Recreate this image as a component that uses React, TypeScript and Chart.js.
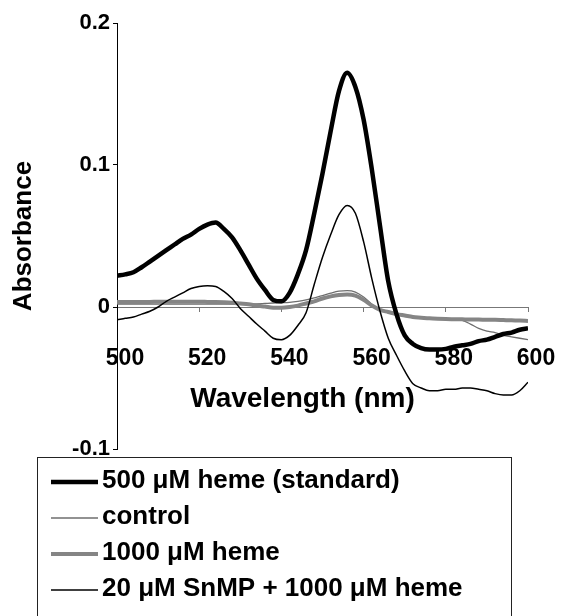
import React, { useEffect, useRef } from "react";
import { Chart, registerables } from "chart.js";

Chart.register(...registerables);

// Wavelength grid (nm)
const wavelengths = [
  500, 502, 504, 506, 508, 510, 512, 514, 516, 518, 520, 522, 524, 526, 528, 530, 532, 534, 536, 538,
  540, 542, 544, 546, 548, 550, 552, 554, 556, 558, 560, 562, 564, 566, 568, 570, 572, 574, 576, 578,
  580, 582, 584, 586, 588, 590, 592, 594, 596, 598, 600,
];

// 500 µM heme (standard)
const std500 = [
  0.022, 0.023, 0.0245, 0.028, 0.032, 0.036, 0.04, 0.044, 0.048, 0.051, 0.055, 0.058, 0.0595, 0.055, 0.049, 0.04, 0.03, 0.02, 0.012, 0.005,
  0.004, 0.01, 0.023, 0.04, 0.066, 0.094, 0.124, 0.152, 0.165, 0.155, 0.132, 0.097, 0.057, 0.018, -0.005, -0.02, -0.026, -0.029, -0.03, -0.03,
  -0.0295, -0.028, -0.027, -0.026, -0.024, -0.023, -0.021, -0.019, -0.018, -0.016, -0.015,
];

// control
const control = [
  0.002, 0.002, 0.002, 0.002, 0.002, 0.002, 0.002, 0.002, 0.002, 0.002, 0.002, 0.002, 0.002, 0.002, 0.002, 0.002, 0.002, 0.0022, 0.0025, 0.0028,
  0.003, 0.0033, 0.004, 0.005, 0.0065, 0.008, 0.0098, 0.0112, 0.0115, 0.0105, 0.007, 0.002, -0.002, -0.004, -0.005, -0.006, -0.007, -0.0075, -0.008, -0.0082,
  -0.0085, -0.0087, -0.0095, -0.012, -0.015, -0.017, -0.018, -0.02, -0.021, -0.022, -0.023,
];

// 1000 µM heme
const heme1000 = [
  0.0035, 0.0035, 0.0035, 0.0036, 0.0036, 0.0037, 0.0037, 0.0037, 0.0037, 0.0037, 0.0037, 0.0036, 0.0035, 0.0033, 0.003, 0.0025, 0.002, 0.001, 0.0003, -0.0005,
  -0.0005, 0.0, 0.001, 0.0025, 0.004, 0.006, 0.0075, 0.0085, 0.0088, 0.008, 0.005, 0.001, -0.002, -0.0035, -0.005, -0.006, -0.007, -0.0075, -0.008, -0.0083,
  -0.0085, -0.0086, -0.0087, -0.0088, -0.0088, -0.009, -0.009, -0.0092, -0.0094, -0.0095, -0.0098,
];

// 20 µM SnMP + 1000 µM heme
const snmp = [
  -0.009, -0.008, -0.007, -0.005, -0.003, 0.0, 0.004, 0.007, 0.01, 0.013, 0.0145, 0.015, 0.0145, 0.011, 0.006, -0.001, -0.0065, -0.012, -0.017, -0.022,
  -0.023, -0.02, -0.013, -0.004, 0.016, 0.035, 0.051, 0.065, 0.0715, 0.066, 0.046, 0.02, -0.003, -0.022, -0.034, -0.045, -0.054, -0.057, -0.059, -0.059,
  -0.058, -0.058, -0.057, -0.057, -0.058, -0.059, -0.061, -0.062, -0.062, -0.059, -0.053,
];

const seriesLabels = [
  "500 \u03bcM heme (standard)",
  "control",
  "1000 \u03bcM heme",
  "20 \u03bcM SnMP + 1000 \u03bcM heme",
];

const xTitle = "Wavelength (nm)";
const yTitle = "Absorbance";

const FONT = "'Liberation Sans', Arial, Helvetica, sans-serif";

const toPoints = (ys: number[]) => wavelengths.map((x, i) => ({ x, y: ys[i] }));

const extrasPlugin = {
  id: "extras",
  afterDraw(chart: any) {
    const { ctx, chartArea } = chart;
    ctx.save();
    // x-axis title
    ctx.fillStyle = "#000";
    ctx.font = `bold 28px ${FONT}`;
    ctx.textAlign = "center";
    ctx.textBaseline = "middle";
    const cx = (chartArea.left + chartArea.right) / 2 - 20;
    ctx.fillText(xTitle, cx, 399);

    // legend box
    const bx = 37;
    const by = 457;
    ctx.strokeStyle = "#222";
    ctx.lineWidth = 1;
    ctx.strokeRect(bx + 0.5, by + 0.5, 474, 200);

    const rowY = [482, 518, 554, 590];
    chart.data.datasets.forEach((ds: any, i: number) => {
      const y = rowY[i];
      ctx.beginPath();
      ctx.strokeStyle = ds.borderColor;
      ctx.lineWidth = ds.borderWidth;
      ctx.moveTo(51, y);
      ctx.lineTo(98, y);
      ctx.stroke();
      ctx.fillStyle = "#000";
      ctx.font = `bold 26px ${FONT}`;
      ctx.textAlign = "left";
      ctx.textBaseline = "middle";
      ctx.fillText(ds.label, 102, y - 1);
    });
    ctx.restore();
  },
};

export default function App() {
  const ref = useRef<HTMLCanvasElement | null>(null);

  useEffect(() => {
    if (!ref.current) return;
    const chart = new Chart(ref.current, {
      type: "line",
      data: {
        datasets: [
          {
            label: seriesLabels[0],
            data: toPoints(std500),
            borderColor: "#000000",
            borderWidth: 4.5,
            order: 0,
          },
          {
            label: seriesLabels[1],
            data: toPoints(control),
            borderColor: "#6e6e6e",
            borderWidth: 1.3,
            order: 3,
          },
          {
            label: seriesLabels[2],
            data: toPoints(heme1000),
            borderColor: "#858585",
            borderWidth: 4,
            order: 2,
          },
          {
            label: seriesLabels[3],
            data: toPoints(snmp),
            borderColor: "#000000",
            borderWidth: 1.5,
            order: 1,
          },
        ] as any,
      },
      options: {
        responsive: false,
        animation: false,
        elements: {
          point: { radius: 0 },
          line: { tension: 0.3, cubicInterpolationMode: "monotone", fill: false },
        },
        layout: { padding: { left: 0, top: 23, right: 33, bottom: 167 } },
        plugins: {
          legend: { display: false },
          tooltip: { enabled: false },
        },
        scales: {
          x: {
            type: "linear",
            min: 500,
            max: 600,
            position: { y: 0 } as any,
            ticks: {
              stepSize: 20,
              padding: 34,
              labelOffset: 8,
              color: "#000",
              font: { family: FONT, size: 23, weight: "bold" },
              maxRotation: 0,
            },
            grid: { drawOnChartArea: false, drawTicks: true, tickLength: 4, color: "#777" },
            border: { display: true, color: "#777", width: 1 },
            title: { display: false },
            afterFit: (scale: any) => {
              scale.paddingLeft = 0;
              scale.paddingRight = 0;
            },
          },
          y: {
            type: "linear",
            min: -0.1,
            max: 0.2,
            ticks: {
              stepSize: 0.1,
              padding: 3,
              color: "#000",
              font: { family: FONT, size: 22, weight: "bold" },
              callback: (v: any) => String(Math.round(Number(v) * 10) / 10),
            },
            grid: { drawOnChartArea: false, drawTicks: true, tickLength: 4, color: "#000" },
            border: { display: true, color: "#000", width: 1 },
            title: {
              display: true,
              text: yTitle,
              color: "#000",
              font: { family: FONT, size: 26, weight: "bold" },
              padding: { top: 8, bottom: 0 },
            },
            afterFit: (scale: any) => {
              scale.width = 117;
            },
          },
        },
      },
      plugins: [extrasPlugin],
    });
    return () => chart.destroy();
  }, []);

  return (
    <div style={{ position: "fixed", left: 0, top: 0, width: 561, height: 616, background: "#fff" }}>
      <canvas ref={ref} width={561} height={616} style={{ display: "block" }} />
    </div>
  );
}
